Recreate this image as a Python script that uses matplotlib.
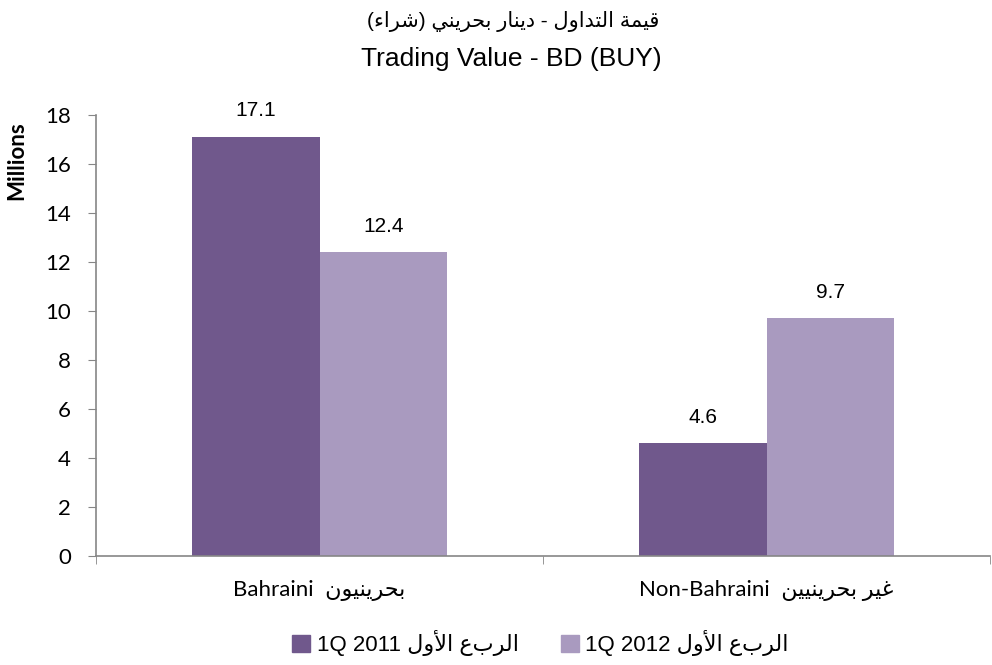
import numpy as np
import matplotlib.pyplot as plt
from matplotlib.patches import Patch

# --- data ---
categories = ["Bahraini", "Non-Bahraini"]
categories_ar = ["بحرينيون", "غير بحرينيين"]
series_names = ["1Q 2011", "1Q 2012"]
series_ar = "الربع الأول"
values_2011 = [17.1, 4.6]
values_2012 = [12.4, 9.7]
title_ar = "قيمة التداول - دينار بحريني (شراء)"
title_en = "Trading Value - BD (BUY)"
y_ticks = [0, 2, 4, 6, 8, 10, 12, 14, 16, 18]

color_2011 = "#70588C"
color_2012 = "#A99ABF"
axis_grey = "#868686"

# Minimal Arabic shaping (no reshaper/bidi package offline)
# forms: isolated, final, initial, medial
FORMS = {
    'ا': '\uFE8D\uFE8E', 'أ': '\uFE83\uFE84', 'ة': '\uFE93\uFE94',
    'د': '\uFEA9\uFEAA', 'ر': '\uFEAD\uFEAE', 'و': '\uFEED\uFEEE',
    'ء': '\uFE80',
    'ب': '\uFE8F\uFE90\uFE91\uFE92', 'ت': '\uFE95\uFE96\uFE97\uFE98',
    'ح': '\uFEA1\uFEA2\uFEA3\uFEA4', 'ش': '\uFEB5\uFEB6\uFEB7\uFEB8',
    'غ': '\uFECD\uFECE\uFECF\uFED0', 'ق': '\uFED5\uFED6\uFED7\uFED8',
    'ل': '\uFEDD\uFEDE\uFEDF\uFEE0', 'م': '\uFEE1\uFEE2\uFEE3\uFEE4',
    'ن': '\uFEE5\uFEE6\uFEE7\uFEE8', 'ي': '\uFEF1\uFEF2\uFEF3\uFEF4',
}
LAM_ALEF = {'ا': '\uFEFB\uFEFC', 'أ': '\uFEF7\uFEF8'}
MIRROR = {'(': ')', ')': '('}


def ar(text):
    """Shape Arabic text and return it in visual (left-to-right) order."""
    units = []
    i = 0
    while i < len(text):
        c = text[i]
        if c == 'ل' and i + 1 < len(text) and text[i + 1] in LAM_ALEF:
            units.append(LAM_ALEF[text[i + 1]])
            i += 2
        else:
            units.append(FORMS.get(c, MIRROR.get(c, c)))
            i += 1
    out = []
    for k, f in enumerate(units):
        prev = units[k - 1] if k > 0 else None
        nxt = units[k + 1] if k + 1 < len(units) else None
        j_prev = prev is not None and len(prev) == 4 and len(f) >= 2
        j_next = len(f) == 4 and nxt is not None and len(nxt) >= 2
        if len(f) < 2:
            out.append(f)
        elif j_prev and j_next:
            out.append(f[3])
        elif j_prev:
            out.append(f[1])
        elif j_next:
            out.append(f[2])
        else:
            out.append(f[0])
    return ''.join(reversed(out))


title_font = ['Liberation Sans', 'DejaVu Sans']
label_font = ['Lato', 'DejaVu Sans']

fig = plt.figure(figsize=(9.92, 6.65), dpi=100)
ax = fig.add_axes([0.0968, 0.1639, 0.9012, 0.6632])

x = np.arange(len(categories))
width = 0.285
bars1 = ax.bar(x - width / 2, values_2011, width, color=color_2011)
bars2 = ax.bar(x + width / 2, values_2012, width, color=color_2012)

for bars, vals in [(bars1, values_2011), (bars2, values_2012)]:
    for b, v in zip(bars, vals):
        ax.annotate(f"{v:.1f}", (b.get_x() + b.get_width() / 2, v),
                    xytext=(0, 12), textcoords='offset points',
                    ha='center', va='bottom', fontsize=15, family=title_font)

ax.set_xlim(-0.5, 1.5)
ax.set_ylim(0, 18)
ax.set_yticks(y_ticks)
ax.set_yticklabels([str(t) for t in y_ticks], fontsize=16, family=label_font)
ax.set_xticks(x)
ax.set_xticklabels([f"{en}  {ar(a)}" for en, a in zip(categories, categories_ar)],
                   fontsize=16, family=label_font)
ax.tick_params(axis='x', which='major', length=0, pad=17)
ax.set_xticks([-0.5, 0.5, 1.5], minor=True)
ax.tick_params(axis='x', which='minor', length=6, color=axis_grey, direction='out')
ax.tick_params(axis='y', length=6, color=axis_grey, direction='out', pad=12)

for s in ['top', 'right']:
    ax.spines[s].set_visible(False)
for s in ['left', 'bottom']:
    ax.spines[s].set_color(axis_grey)
    ax.spines[s].set_linewidth(1.2)

ax.set_ylabel("Millions", fontsize=16, fontweight='bold', family=label_font)
ax.yaxis.set_label_coords(-0.077, 0.896)

fig.text(0.517, 0.968, ar(title_ar), ha='center', va='center', fontsize=15, family=title_font)
fig.text(0.515, 0.912, title_en, ha='center', va='center', fontsize=19, family=title_font)

handles = [Patch(color=color_2011), Patch(color=color_2012)]
labels = [f"{n} {ar(series_ar)}" for n in series_names]
fig.legend(handles, labels, loc='center', bbox_to_anchor=(0.545, 0.033), ncol=2,
           frameon=False, handlelength=0.8, handleheight=0.8, handletextpad=0.3,
           columnspacing=1.9, prop={'family': title_font, 'size': 16})

fig.savefig("out.png", dpi=100)
